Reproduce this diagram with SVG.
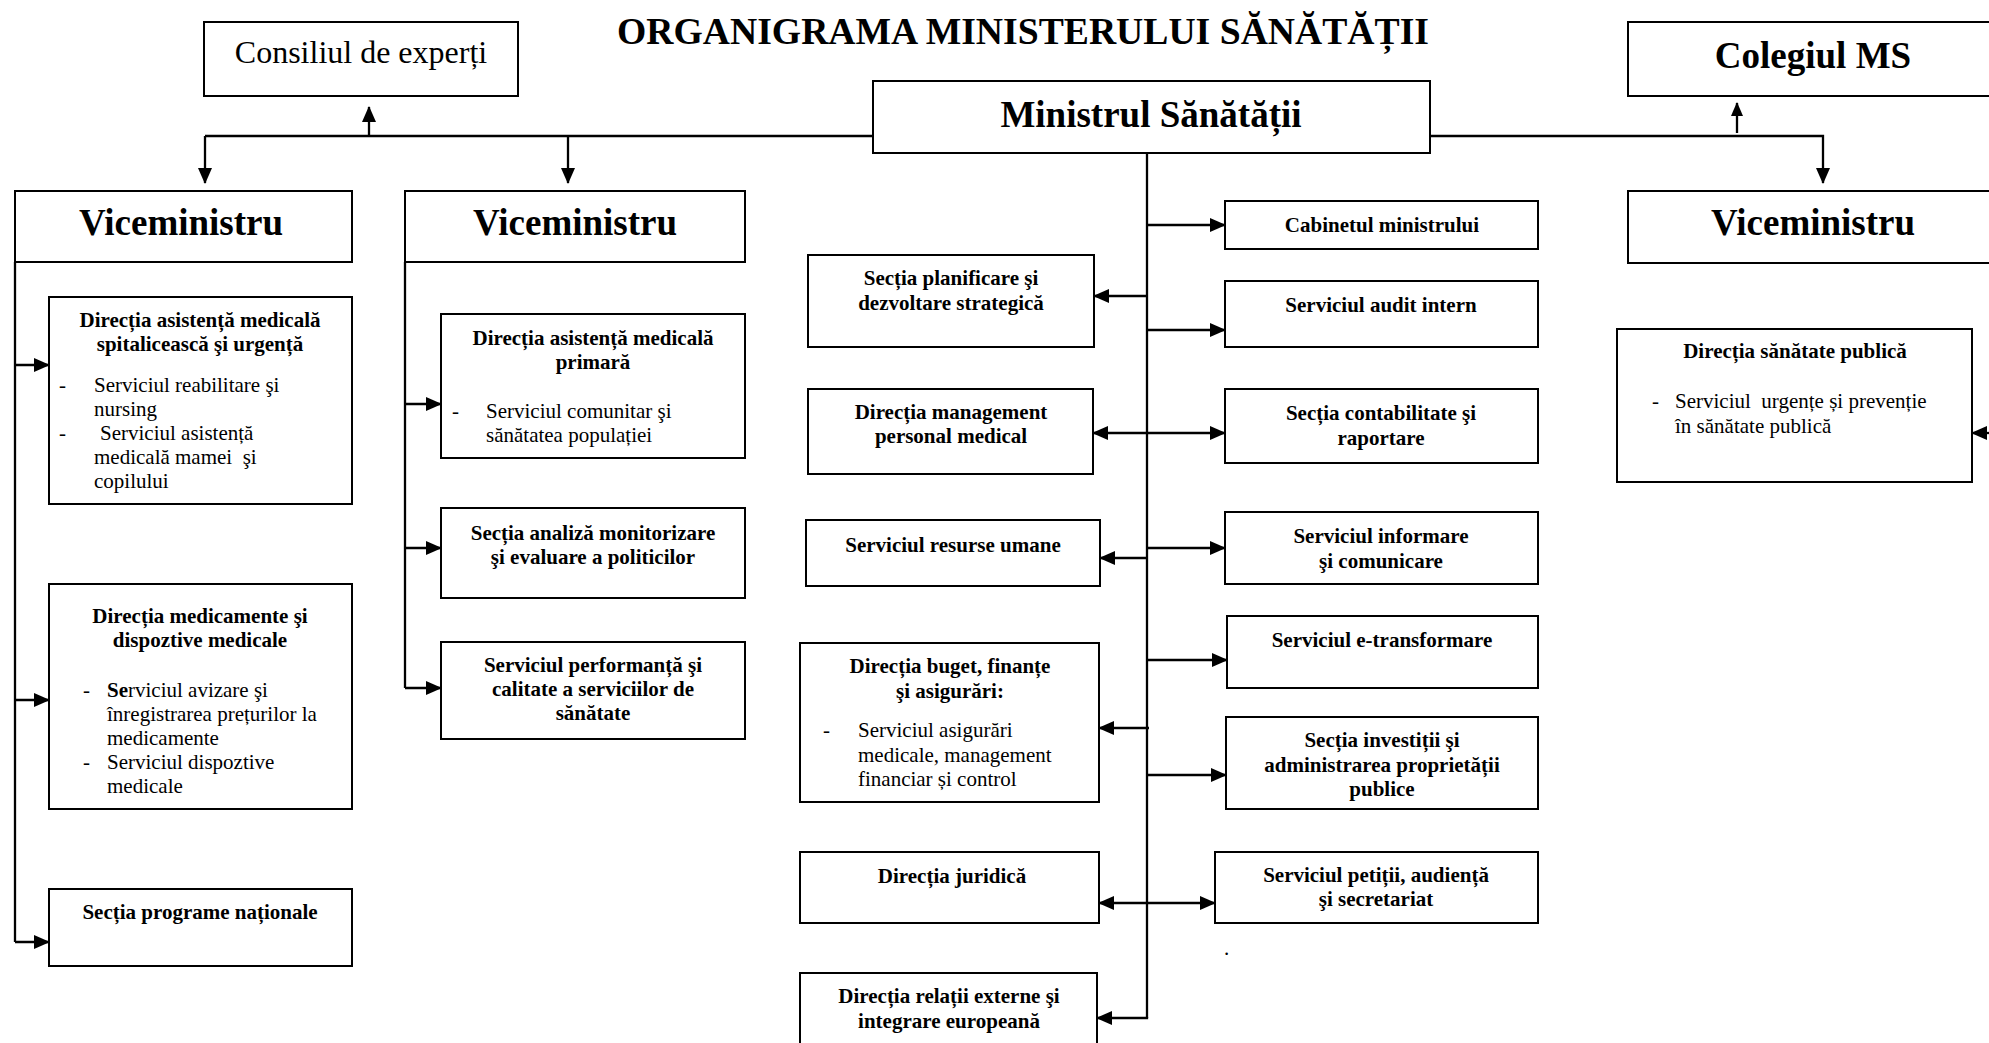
<svg xmlns="http://www.w3.org/2000/svg" width="1989" height="1043" viewBox="0 0 1989 1043">
<defs>
<style>
.box{fill:#fff;stroke:#000;stroke-width:2}
.c{fill:none;stroke:#000;stroke-width:2.3}
text{font-family:"Liberation Serif","Times New Roman",serif;fill:#000}
.t{font-size:21px;font-weight:bold;text-anchor:middle}
.r{font-size:21px}
.big{font-size:37px;font-weight:bold;text-anchor:middle}
</style>
<marker id="ah" viewBox="0 0 16 14" refX="15" refY="7" markerWidth="16" markerHeight="14" markerUnits="userSpaceOnUse" orient="auto-start-reverse"><path d="M0,0 L16,7 L0,14 z" fill="#000"/></marker>
<marker id="ahs" viewBox="0 0 14 12" refX="13" refY="6" markerWidth="14" markerHeight="12" markerUnits="userSpaceOnUse" orient="auto"><path d="M0,0 L14,6 L0,12 z" fill="#000"/></marker>
</defs>
<rect width="1989" height="1043" fill="#fff"/>
<text x="1023" y="44" class="big" textLength="812" lengthAdjust="spacingAndGlyphs">ORGANIGRAMA MINISTERULUI SĂNĂTĂȚII</text>

<g id="connectors">
<!-- top left -->
<path class="c" d="M873,136 H205"/>
<path class="c" d="M205,136 V183" marker-end="url(#ah)"/>
<path class="c" d="M568,136 V183" marker-end="url(#ah)"/>
<path class="c" d="M369,136 V107" marker-end="url(#ah)"/>
<!-- top right -->
<path class="c" d="M1430,136 H1823 V183" marker-end="url(#ah)"/>
<path class="c" d="M1737,133 V103" marker-end="url(#ahs)"/>
<!-- vice 1 spine -->
<path class="c" d="M15,262 V942"/>
<path class="c" d="M15,365 H49" marker-end="url(#ah)"/>
<path class="c" d="M15,700 H49" marker-end="url(#ah)"/>
<path class="c" d="M15,942 H49" marker-end="url(#ah)"/>
<!-- vice 2 spine -->
<path class="c" d="M405,262 V688"/>
<path class="c" d="M405,404 H441" marker-end="url(#ah)"/>
<path class="c" d="M405,548 H441" marker-end="url(#ah)"/>
<path class="c" d="M405,688 H441" marker-end="url(#ah)"/>
<!-- central spine -->
<path class="c" d="M1147,154 V1018"/>
<path class="c" d="M1147,225 H1225" marker-end="url(#ah)"/>
<path class="c" d="M1147,330 H1225" marker-end="url(#ah)"/>
<path class="c" d="M1093,433 H1225" marker-start="url(#ah)" marker-end="url(#ah)"/>
<path class="c" d="M1146,548 H1225" marker-end="url(#ah)"/>
<path class="c" d="M1147,660 H1227" marker-end="url(#ah)"/>
<path class="c" d="M1147,775 H1226" marker-end="url(#ah)"/>
<path class="c" d="M1099,903 H1215" marker-start="url(#ah)" marker-end="url(#ah)"/>
<path class="c" d="M1147,296 H1094" marker-end="url(#ah)"/>
<path class="c" d="M1147,558 H1100" marker-end="url(#ah)"/>
<path class="c" d="M1149,728 H1099" marker-end="url(#ah)"/>
<path class="c" d="M1147,1017 V1018 H1097" marker-end="url(#ah)"/>
<!-- arrow into Direcția sănătate publică -->
<path class="c" d="M1995,433 H1972" marker-end="url(#ah)"/>
</g>

<g id="consiliul">
<rect class="box" x="204" y="22" width="314" height="74"/>
<text x="361" y="63" font-size="32" text-anchor="middle">Consiliul de experți</text>
</g>
<g id="ministrul">
<rect class="box" x="873" y="81" width="557" height="72"/>
<text x="1151" y="127" class="big">Ministrul Sănătății</text>
</g>
<g id="colegiul">
<rect class="box" x="1628" y="22" width="370" height="74"/>
<text x="1813" y="68" class="big">Colegiul MS</text>
</g>
<g id="vice1">
<rect class="box" x="15" y="191" width="337" height="71"/>
<text x="181" y="235" class="big">Viceministru</text>
</g>
<g id="vice2">
<rect class="box" x="405" y="191" width="340" height="71"/>
<text x="575" y="235" class="big">Viceministru</text>
</g>
<g id="vice3">
<rect class="box" x="1628" y="191" width="370" height="72"/>
<text x="1813" y="235" class="big">Viceministru</text>
</g>

<!-- Vice 1 subordinates -->
<g id="dir-spitaliceasca">
<rect class="box" x="49" y="297" width="303" height="207"/>
<text x="200" y="327" class="t">Direcția asistență medicală</text>
<text x="200" y="351" class="t">spitalicească şi urgență</text>
<text x="59" y="392" class="r">-</text>
<text x="94" y="392" class="r">Serviciul reabilitare şi</text>
<text x="94" y="416" class="r">nursing</text>
<text x="59" y="440" class="r">-</text>
<text x="100" y="440" class="r">Serviciul asistență</text>
<text x="94" y="464" class="r" xml:space="preserve">medicală mamei  şi</text>
<text x="94" y="488" class="r">copilului</text>
</g>
<g id="dir-medicamente">
<rect class="box" x="49" y="584" width="303" height="225"/>
<text x="200" y="623" class="t">Direcția medicamente şi</text>
<text x="200" y="647" class="t">dispoztive medicale</text>
<text x="83" y="697" class="r">-</text>
<text x="107" y="697" class="r"><tspan font-weight="bold">Se</tspan>rviciul avizare şi</text>
<text x="107" y="721" class="r">înregistrarea prețurilor la</text>
<text x="107" y="745" class="r">medicamente</text>
<text x="83" y="769" class="r">-</text>
<text x="107" y="769" class="r">Serviciul dispoztive</text>
<text x="107" y="793" class="r">medicale</text>
</g>
<g id="sec-programe">
<rect class="box" x="49" y="889" width="303" height="77"/>
<text x="200" y="919" class="t">Secția programe naționale</text>
</g>

<!-- Vice 2 subordinates -->
<g id="dir-primara">
<rect class="box" x="441" y="314" width="304" height="144"/>
<text x="593" y="345" class="t">Direcția asistență medicală</text>
<text x="593" y="369" class="t">primară</text>
<text x="452" y="418" class="r">-</text>
<text x="486" y="418" class="r">Serviciul comunitar şi</text>
<text x="486" y="442" class="r">sănătatea populației</text>
</g>
<g id="sec-analiza">
<rect class="box" x="441" y="508" width="304" height="90"/>
<text x="593" y="540" class="t">Secția analiză monitorizare</text>
<text x="593" y="564" class="t">şi evaluare a politicilor</text>
</g>
<g id="serv-performanta">
<rect class="box" x="441" y="642" width="304" height="97"/>
<text x="593" y="672" class="t">Serviciul performanță şi</text>
<text x="593" y="696" class="t">calitate a serviciilor de</text>
<text x="593" y="720" class="t">sănătate</text>
</g>

<!-- central left -->
<g id="sec-planificare">
<rect class="box" x="808" y="255" width="286" height="92"/>
<text x="951" y="285" class="t">Secția planificare şi</text>
<text x="951" y="310" class="t">dezvoltare strategică</text>
</g>
<g id="dir-management">
<rect class="box" x="808" y="389" width="285" height="85"/>
<text x="951" y="419" class="t">Direcția management</text>
<text x="951" y="443" class="t">personal medical</text>
</g>
<g id="serv-resurse">
<rect class="box" x="806" y="520" width="294" height="66"/>
<text x="953" y="552" class="t">Serviciul resurse umane</text>
</g>
<g id="dir-buget">
<rect class="box" x="800" y="643" width="299" height="159"/>
<text x="950" y="673" class="t">Direcția buget, finanțe</text>
<text x="950" y="698" class="t">şi asigurări:</text>
<text x="823" y="737" class="r">-</text>
<text x="858" y="737" class="r">Serviciul asigurări</text>
<text x="858" y="762" class="r">medicale, management</text>
<text x="858" y="786" class="r">financiar și control</text>
</g>
<g id="dir-juridica">
<rect class="box" x="800" y="852" width="299" height="71"/>
<text x="952" y="883" class="t">Direcția juridică</text>
</g>
<g id="dir-relatii">
<rect class="box" x="800" y="973" width="297" height="80"/>
<text x="949" y="1003" class="t">Direcția relații externe şi</text>
<text x="949" y="1028" class="t">integrare europeană</text>
</g>

<!-- central right -->
<g id="cabinetul">
<rect class="box" x="1225" y="201" width="313" height="48"/>
<text x="1382" y="232" class="t">Cabinetul ministrului</text>
</g>
<g id="serv-audit">
<rect class="box" x="1225" y="281" width="313" height="66"/>
<text x="1381" y="312" class="t">Serviciul audit intern</text>
</g>
<g id="sec-contabilitate">
<rect class="box" x="1225" y="389" width="313" height="74"/>
<text x="1381" y="420" class="t">Secția contabilitate şi</text>
<text x="1381" y="445" class="t">raportare</text>
</g>
<g id="serv-informare">
<rect class="box" x="1225" y="512" width="313" height="72"/>
<text x="1381" y="543" class="t">Serviciul informare</text>
<text x="1381" y="568" class="t">şi comunicare</text>
</g>
<g id="serv-etransformare">
<rect class="box" x="1227" y="616" width="311" height="72"/>
<text x="1382" y="647" class="t">Serviciul e-transformare</text>
</g>
<g id="sec-investitii">
<rect class="box" x="1226" y="717" width="312" height="92"/>
<text x="1382" y="747" class="t">Secția investiții şi</text>
<text x="1382" y="772" class="t">administrarea proprietății</text>
<text x="1382" y="796" class="t">publice</text>
</g>
<g id="serv-petitii">
<rect class="box" x="1215" y="852" width="323" height="71"/>
<text x="1376" y="882" class="t">Serviciul petiții, audiență</text>
<text x="1376" y="906" class="t">şi secretariat</text>
</g>
<text x="1224" y="955" class="r">.</text>

<!-- right -->
<g id="dir-sanatate-publica">
<rect class="box" x="1617" y="329" width="355" height="153"/>
<text x="1795" y="358" class="t">Direcția sănătate publică</text>
<text x="1652" y="408" class="r">-</text>
<text x="1675" y="408" class="r" xml:space="preserve">Serviciul  urgențe și prevenție</text>
<text x="1675" y="433" class="r">în sănătate publică</text>
</g>
</svg>
